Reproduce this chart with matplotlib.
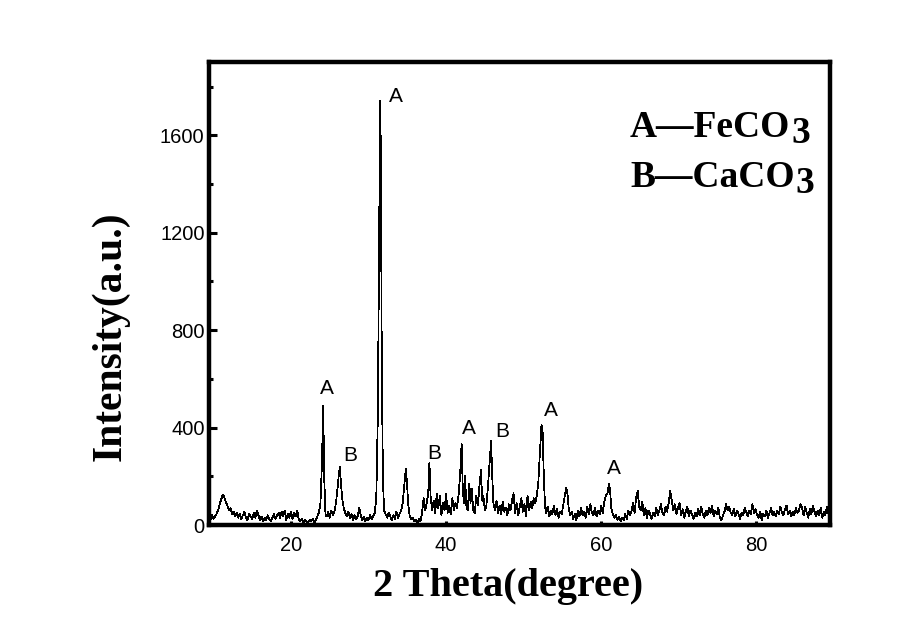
import matplotlib
matplotlib.use("Agg")
import matplotlib.pyplot as plt
from matplotlib.ticker import MultipleLocator

# XRD trace (2 theta in degrees, intensity in a.u.)
two_theta = [
    9.2, 9.4, 9.6, 9.8, 10.0, 10.2, 10.4, 10.6, 10.8, 11.0, 11.2, 11.4, 11.6, 11.8, 12.0, 12.2, 12.4,
    12.6, 12.8, 13.0, 13.2, 13.4, 13.6, 13.8, 14.0, 14.2, 14.4, 14.6, 14.8, 15.0, 15.2, 15.4, 15.6, 15.8,
    16.0, 16.2, 16.4, 16.6, 16.8, 17.0, 17.2, 17.4, 17.6, 17.8, 18.0, 18.2, 18.4, 18.6, 18.8, 19.0, 19.2,
    19.4, 19.6, 19.8, 20.0, 20.2, 20.4, 20.6, 20.8, 21.0, 21.2, 21.4, 21.6, 21.8, 22.0, 22.2, 22.4, 22.6,
    22.8, 23.0, 23.2, 23.4, 23.6, 23.8, 24.0, 24.15, 24.3, 24.45, 24.6, 24.8, 25.0, 25.2, 25.4, 25.6,
    25.8, 26.0, 26.15, 26.3, 26.45, 26.6, 26.8, 27.0, 27.2, 27.4, 27.6, 27.8, 28.0, 28.2, 28.4, 28.6,
    28.8, 29.0, 29.2, 29.4, 29.6, 29.8, 30.0, 30.2, 30.4, 30.6, 30.8, 31.0, 31.2, 31.35, 31.5, 31.6,
    31.7, 31.85, 32.0, 32.2, 32.4, 32.6, 32.8, 33.0, 33.2, 33.4, 33.6, 33.8, 34.0, 34.2, 34.4, 34.6,
    34.8, 34.95, 35.1, 35.3, 35.5, 35.7, 35.9, 36.1, 36.3, 36.5, 36.7, 36.9, 37.1, 37.3, 37.5, 37.7,
    37.85, 38.0, 38.2, 38.4, 38.6, 38.8, 39.0, 39.2, 39.4, 39.6, 39.8, 40.0, 40.2, 40.4, 40.6, 40.8,
    41.0, 41.2, 41.4, 41.6, 41.8, 42.0, 42.15, 42.3, 42.45, 42.6, 42.8, 43.0, 43.15, 43.3, 43.5, 43.7,
    43.9, 44.1, 44.3, 44.5, 44.65, 44.8, 45.0, 45.2, 45.4, 45.6, 45.8, 45.95, 46.1, 46.3, 46.5, 46.7,
    46.9, 47.1, 47.3, 47.5, 47.7, 47.9, 48.1, 48.3, 48.5, 48.7, 48.9, 49.1, 49.3, 49.5, 49.7, 49.9,
    50.1, 50.3, 50.5, 50.7, 50.9, 51.1, 51.3, 51.5, 51.7, 51.9, 52.1, 52.3, 52.45, 52.6, 52.75, 52.9,
    53.1, 53.3, 53.5, 53.7, 53.9, 54.1, 54.3, 54.5, 54.7, 54.9, 55.1, 55.3, 55.5, 55.65, 55.8, 56.0,
    56.2, 56.4, 56.6, 56.8, 57.0, 57.2, 57.4, 57.6, 57.8, 58.0, 58.2, 58.4, 58.6, 58.8, 59.0, 59.2,
    59.4, 59.6, 59.8, 60.0, 60.2, 60.4, 60.6, 60.8, 61.0, 61.15, 61.3, 61.5, 61.7, 61.9, 62.1, 62.3,
    62.5, 62.7, 62.9, 63.1, 63.3, 63.5, 63.7, 63.9, 64.1, 64.3, 64.5, 64.7, 64.9, 65.1, 65.3, 65.5,
    65.7, 65.9, 66.1, 66.3, 66.5, 66.7, 66.9, 67.1, 67.3, 67.5, 67.7, 67.9, 68.1, 68.3, 68.5, 68.7,
    68.9, 69.1, 69.3, 69.5, 69.7, 69.9, 70.1, 70.3, 70.5, 70.7, 70.9, 71.1, 71.3, 71.5, 71.7, 71.9,
    72.1, 72.3, 72.5, 72.7, 72.9, 73.1, 73.3, 73.5, 73.7, 73.9, 74.1, 74.3, 74.5, 74.7, 74.9, 75.1,
    75.3, 75.5, 75.7, 75.9, 76.1, 76.3, 76.5, 76.7, 76.9, 77.1, 77.3, 77.5, 77.7, 77.9, 78.1, 78.3,
    78.5, 78.7, 78.9, 79.1, 79.3, 79.5, 79.7, 79.9, 80.1, 80.3, 80.5, 80.7, 80.9, 81.1, 81.3, 81.5,
    81.7, 81.9, 82.1, 82.3, 82.5, 82.7, 82.9, 83.1, 83.3, 83.5, 83.7, 83.9, 84.1, 84.3, 84.5, 84.7,
    84.9, 85.1, 85.3, 85.5, 85.7, 85.9, 86.1, 86.3, 86.5, 86.7, 86.9, 87.1, 87.3, 87.5, 87.7, 87.9,
    88.1, 88.3, 88.5, 88.7, 88.9, 89.1, 89.3, 89.5, 89.7, 89.9,
]
intensity = [
    15, 30, 18, 40, 25, 35, 45, 60, 85, 105, 125, 115, 95, 80, 60, 70, 45,
    55, 35, 50, 30, 45, 25, 40, 55, 30, 20, 45, 35, 25, 50, 30, 60, 40,
    20, 35, 15, 30, 20, 40, 25, 15, 30, 45, 25, 40, 50, 30, 55, 35, 60,
    20, 45, 30, 55, 25, 50, 35, 60, 25, 15, 25, 10, 20, 15, 10, 20, 15,
    25, 10, 20, 35, 50, 90, 260, 490, 180, 45, 35, 55, 30, 60, 40, 55,
    90, 150, 200, 238, 170, 110, 70, 50, 35, 55, 30, 45, 20, 40, 25, 35,
    70, 40, 20, 35, 15, 30, 20, 40, 25, 35, 50, 110, 450, 1100, 1740, 1500,
    700, 200, 60, 45, 30, 50, 35, 20, 40, 25, 55, 30, 45, 60, 90, 160,
    230, 180, 90, 40, 25, 30, 15, 20, 10, 25, 15, 50, 110, 60, 90, 130,
    255, 120, 60, 100, 50, 130, 70, 120, 40, 90, 60, 130, 50, 80, 45, 110,
    60, 90, 70, 120, 200, 333, 150, 90, 200, 80, 60, 170, 90, 150, 60, 50,
    120, 80, 160, 225, 100, 120, 60, 80, 160, 250, 345, 200, 90, 60, 100, 50,
    80, 45, 95, 55, 70, 40, 85, 60, 100, 130, 50, 90, 40, 75, 110, 55,
    85, 35, 120, 60, 95, 70, 110, 90, 120, 180, 300, 411, 380, 200, 80, 50,
    75, 35, 60, 45, 80, 40, 65, 30, 55, 45, 80, 120, 152, 130, 70, 40,
    55, 25, 45, 20, 60, 35, 70, 40, 55, 30, 75, 45, 85, 50, 40, 70,
    35, 60, 45, 80, 50, 95, 120, 130, 169, 140, 70, 45, 30, 40, 20, 35,
    15, 30, 20, 45, 25, 60, 40, 55, 90, 50, 110, 140, 75, 60, 95, 40,
    70, 30, 60, 45, 25, 50, 35, 70, 40, 60, 85, 50, 40, 75, 55, 90,
    140, 100, 60, 85, 45, 70, 90, 40, 65, 30, 55, 75, 35, 60, 45, 25,
    50, 35, 65, 40, 75, 45, 30, 60, 40, 70, 50, 80, 35, 60, 45, 70,
    30, 20, 40, 55, 85, 60, 75, 50, 40, 65, 35, 60, 45, 25, 50, 40,
    70, 55, 35, 60, 45, 85, 50, 65, 40, 30, 55, 20, 45, 35, 60, 30,
    50, 70, 40, 55, 35, 60, 45, 75, 50, 40, 65, 80, 45, 60, 35, 55,
    40, 70, 50, 60, 85, 70, 40, 75, 50, 30, 65, 45, 80, 55, 35, 60,
    40, 70, 30, 55, 40, 75, 45, 30, 55, 40,
]
assert len(two_theta) == len(intensity)

# phase markers: letter, 2theta, intensity
peak_letters = ["A", "A", "B", "B", "A", "B", "A", "A"]
peak_x = [33.5, 24.6, 27.7, 38.5, 42.9, 47.2, 53.5, 61.6]
peak_y = [1760, 560, 287, 295, 398, 382, 472, 234]

legend_rows = [("A\u2014FeCO", "3"), ("B\u2014CaCO", "3")]

SANS = "Liberation Sans"
SERIF = "Liberation Serif"

fig = plt.figure(figsize=(9.14, 6.36), dpi=100)
ax = fig.add_axes([0.2284, 0.1745, 0.6797, 0.7275])

ax.plot(two_theta, intensity, color="black", lw=0.55, antialiased=False)
ax.set_xlim(9.4, 89.5)
ax.set_ylim(0, 1900)

for s in ax.spines.values():
    s.set_linewidth(3.2)

ax.xaxis.set_major_locator(MultipleLocator(20))
ax.yaxis.set_major_locator(MultipleLocator(400))
ax.yaxis.set_minor_locator(MultipleLocator(200))
ax.tick_params(axis="y", which="major", direction="in", length=6, width=2.2, pad=3,
               labelsize=14.5, right=False)
ax.tick_params(axis="y", which="minor", direction="in", length=3, width=2.2, right=False)
ax.tick_params(axis="x", which="major", direction="in", length=3, width=2.2, pad=8,
               labelsize=14.5, top=False)
for lab in ax.get_xticklabels() + ax.get_yticklabels():
    lab.set_fontfamily(SANS)

ax.set_xlabel("2 Theta(degree)", family=SERIF, fontweight="bold", fontsize=29)
ax.xaxis.set_label_coords(0.481, -0.093)
ax.set_ylabel("Intensity(a.u.)", family=SERIF, fontweight="bold", fontsize=30,
              va="center")
ax.yaxis.set_label_coords(-0.159, 0.408)

for t, x, y in zip(peak_letters, peak_x, peak_y):
    ax.text(x, y, t, family=SANS, fontsize=15, ha="center", va="center")

for i, (main, sub) in enumerate(legend_rows):
    t = ax.text(0.678, 0.838 - i * 0.108, main, transform=ax.transAxes, family=SERIF,
                fontweight="bold", fontsize=27, ha="left", va="baseline")
    ax.annotate(sub, xy=(1, 0), xycoords=t, xytext=(1, -6), textcoords="offset pixels",
                family=SERIF, fontweight="bold", fontsize=27, ha="left", va="bottom")

fig.savefig("out.png", dpi=100)
